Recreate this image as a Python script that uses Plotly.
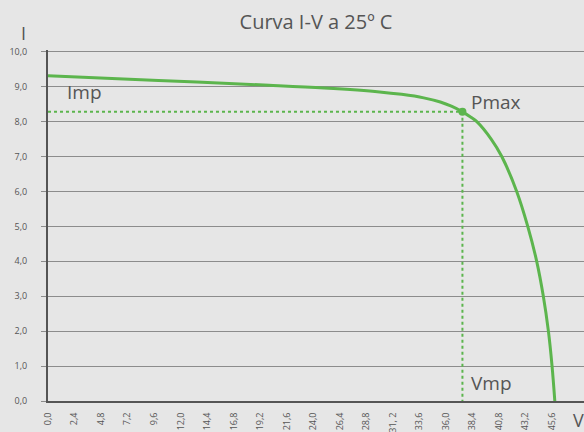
import plotly.graph_objects as go

# Data
voltage = [0, 10, 20, 25, 30, 32, 34, 35.5, 36.5, 37.5, 38.2, 38.8, 40.1, 41.06, 42.41, 43.41, 44.22, 44.82, 45.28, 45.61, 45.86]
current = [9.31, 9.18, 9.04, 8.96, 8.85, 8.78, 8.68, 8.56, 8.44, 8.28, 8.14, 8.0, 7.5, 7.0, 6.0, 5.0, 4.0, 3.0, 2.0, 1.0, 0.0]
vmp = 37.5
imp = 8.28

x_tickvals = [0, 2.4, 4.8, 7.2, 9.6, 12.0, 14.4, 16.8, 19.2, 21.6, 24.0, 26.4, 28.8, 31.2, 33.6, 36.0, 38.4, 40.8, 43.2, 45.6]
x_ticktext = ["0,0", "2,4", "4,8", "7,2", "9,6", "12,0", "14,4", "16,8", "19,2", "21,6", "24,0", "26,4",
              "28,8", "31, 2", "33,6", "36,0", "38,4", "40,8", "43,2", "45,6"]
y_tickvals = [0, 1, 2, 3, 4, 5, 6, 7, 8, 9, 10]
y_ticktext = ["0,0", "1,0", "2,0", "3,0", "4,0", "5,0", "6,0", "7,0", "8,0", "9,0", "10,0"]

GREEN = "#5cb54d"
TXT = "#555555"
FONT = "Open Sans, sans-serif"

fig = go.Figure()
# dotted guides
fig.add_trace(go.Scatter(x=[0, vmp], y=[imp, imp], mode="lines",
                         line=dict(color=GREEN, width=2, dash="dot"), hoverinfo="skip", showlegend=False))
fig.add_trace(go.Scatter(x=[vmp, vmp], y=[imp, 0], mode="lines",
                         line=dict(color=GREEN, width=2, dash="dot"), hoverinfo="skip", showlegend=False))
# I-V curve
fig.add_trace(go.Scatter(x=voltage, y=current, mode="lines",
                         line=dict(color=GREEN, width=3, shape="spline", smoothing=1.0), showlegend=False))
# Pmax point
fig.add_trace(go.Scatter(x=[vmp], y=[imp], mode="markers",
                         marker=dict(color=GREEN, size=8), showlegend=False))

fig.update_layout(
    width=584, height=432,
    margin=dict(l=48, r=0, t=50, b=31, autoexpand=False),
    paper_bgcolor="#e6e6e6", plot_bgcolor="#e6e6e6",
    font=dict(family=FONT, color=TXT),
    title=dict(text="Curva I-V a 25º C", x=0.5, xref="paper", xanchor="center",
               y=1 - 22 / 432, yref="container", yanchor="middle",
               font=dict(size=20, color=TXT, family=FONT, weight=500)),
    xaxis=dict(range=[0, 48.5], tickvals=x_tickvals, ticktext=x_ticktext, tickangle=-90,
               showgrid=False, zeroline=False, showline=True, linecolor="#555555", linewidth=2,
               ticks="", tickfont=dict(size=9, color=TXT), ticklabelstandoff=6,
               automargin=False, fixedrange=True),
    yaxis=dict(range=[0, 10.05], tickvals=y_tickvals, ticktext=y_ticktext,
               showgrid=True, gridcolor="#8c8c8c", gridwidth=1.2, zeroline=False,
               showline=True, linecolor="#555555", linewidth=2,
               ticks="outside", ticklen=5, tickcolor="#8c8c8c",
               tickfont=dict(size=9, color=TXT), ticklabelstandoff=12,
               automargin=False, fixedrange=True),
    annotations=[
        dict(text="I", xref="paper", yref="paper", x=-25 / 536, y=(401 - 33) / 351,
             showarrow=False, font=dict(size=18, color=TXT), xanchor="center", yanchor="middle"),
        dict(text="Imp", x=1.5, y=8.85, showarrow=False, xanchor="left", yanchor="middle",
             font=dict(size=19, color=TXT)),
        dict(text="Pmax", x=vmp + 0.6, y=8.55, showarrow=False, xanchor="left", yanchor="middle",
             font=dict(size=19, color=TXT)),
        dict(text="Vmp", x=vmp + 0.6, y=0.52, showarrow=False, xanchor="left", yanchor="middle",
             font=dict(size=19, color=TXT)),
        dict(text="V", xref="paper", yref="paper", x=(571 - 48) / 536, y=-19 / 351,
             showarrow=False, xanchor="left", yanchor="middle", font=dict(size=18, color=TXT)),
    ],
)

fig.write_html("out.html", config={"displayModeBar": False},
               post_script="document.body.style.margin='0';document.body.style.padding='0';"
                           "document.body.style.overflow='hidden';")
